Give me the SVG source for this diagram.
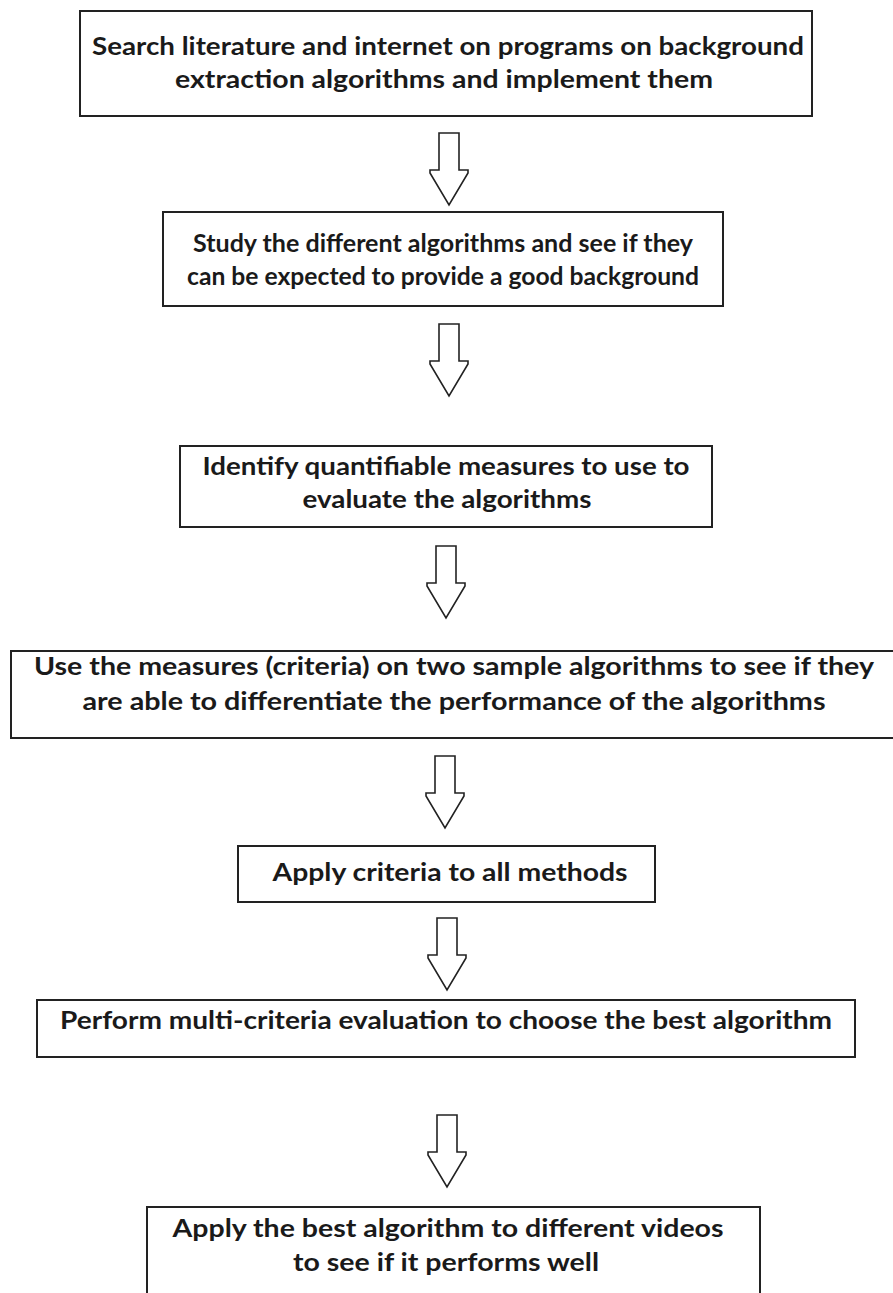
<svg xmlns="http://www.w3.org/2000/svg" width="893" height="1293" viewBox="0 0 893 1293">
<style>
.box{fill:#fff;stroke:#222;stroke-width:2}
.t{font-family:Lato,"Open Sans","Liberation Sans",sans-serif;font-weight:bold;font-size:25px;fill:#1a1a1a;text-anchor:middle}
.arr{fill:#fff;stroke:#222;stroke-width:1.6;stroke-linejoin:miter}
</style>
<defs>
<path id="arrow" d="M-10,0 H10 V37 H19 V40 L0,72 L-19,40 V37 H-10 Z"/>
</defs>
<rect width="893" height="1293" fill="#fff"/>
<g id="connectors">
<use href="#arrow" class="arr" x="449" y="133"/>
<use href="#arrow" class="arr" x="449" y="324"/>
<use href="#arrow" class="arr" x="446" y="546"/>
<use href="#arrow" class="arr" x="445" y="756"/>
<use href="#arrow" class="arr" x="447" y="918"/>
<use href="#arrow" class="arr" x="447" y="1115"/>
</g>
<g id="n1">
<rect class="box" x="80" y="11" width="732" height="105"/>
<text class="t" x="448" y="55" textLength="712" lengthAdjust="spacingAndGlyphs">Search literature and internet on programs on background</text>
<text class="t" x="444" y="88" textLength="538" lengthAdjust="spacingAndGlyphs">extraction algorithms and implement them</text>
</g>
<g id="n2">
<rect class="box" x="163" y="212" width="560" height="94"/>
<text class="t" x="443" y="252" textLength="500" lengthAdjust="spacingAndGlyphs">Study the different algorithms and see if they</text>
<text class="t" x="443" y="285" textLength="512" lengthAdjust="spacingAndGlyphs">can be expected to provide a good background</text>
</g>
<g id="n3">
<rect class="box" x="180" y="446" width="532" height="81"/>
<text class="t" x="446" y="475" textLength="487" lengthAdjust="spacingAndGlyphs">Identify quantifiable measures to use to</text>
<text class="t" x="447" y="508" textLength="289" lengthAdjust="spacingAndGlyphs">evaluate the algorithms</text>
</g>
<g id="n4">
<rect class="box" x="11" y="651" width="890" height="87"/>
<text class="t" x="454" y="675" textLength="840" lengthAdjust="spacingAndGlyphs">Use the measures (criteria) on two sample algorithms to see if they</text>
<text class="t" x="454" y="710" textLength="743" lengthAdjust="spacingAndGlyphs">are able to differentiate the performance of the algorithms</text>
</g>
<g id="n5">
<rect class="box" x="238" y="846" width="417" height="56"/>
<text class="t" x="450" y="881" textLength="355" lengthAdjust="spacingAndGlyphs">Apply criteria to all methods</text>
</g>
<g id="n6">
<rect class="box" x="37" y="1000" width="818" height="57"/>
<text class="t" x="446" y="1029" textLength="772" lengthAdjust="spacingAndGlyphs">Perform multi-criteria evaluation to choose the best algorithm</text>
</g>
<g id="n7">
<rect class="box" x="147" y="1207" width="613" height="100"/>
<text class="t" x="448" y="1237" textLength="551" lengthAdjust="spacingAndGlyphs">Apply the best algorithm to different videos</text>
<text class="t" x="446" y="1271" textLength="306" lengthAdjust="spacingAndGlyphs">to see if it performs well</text>
</g>
</svg>
